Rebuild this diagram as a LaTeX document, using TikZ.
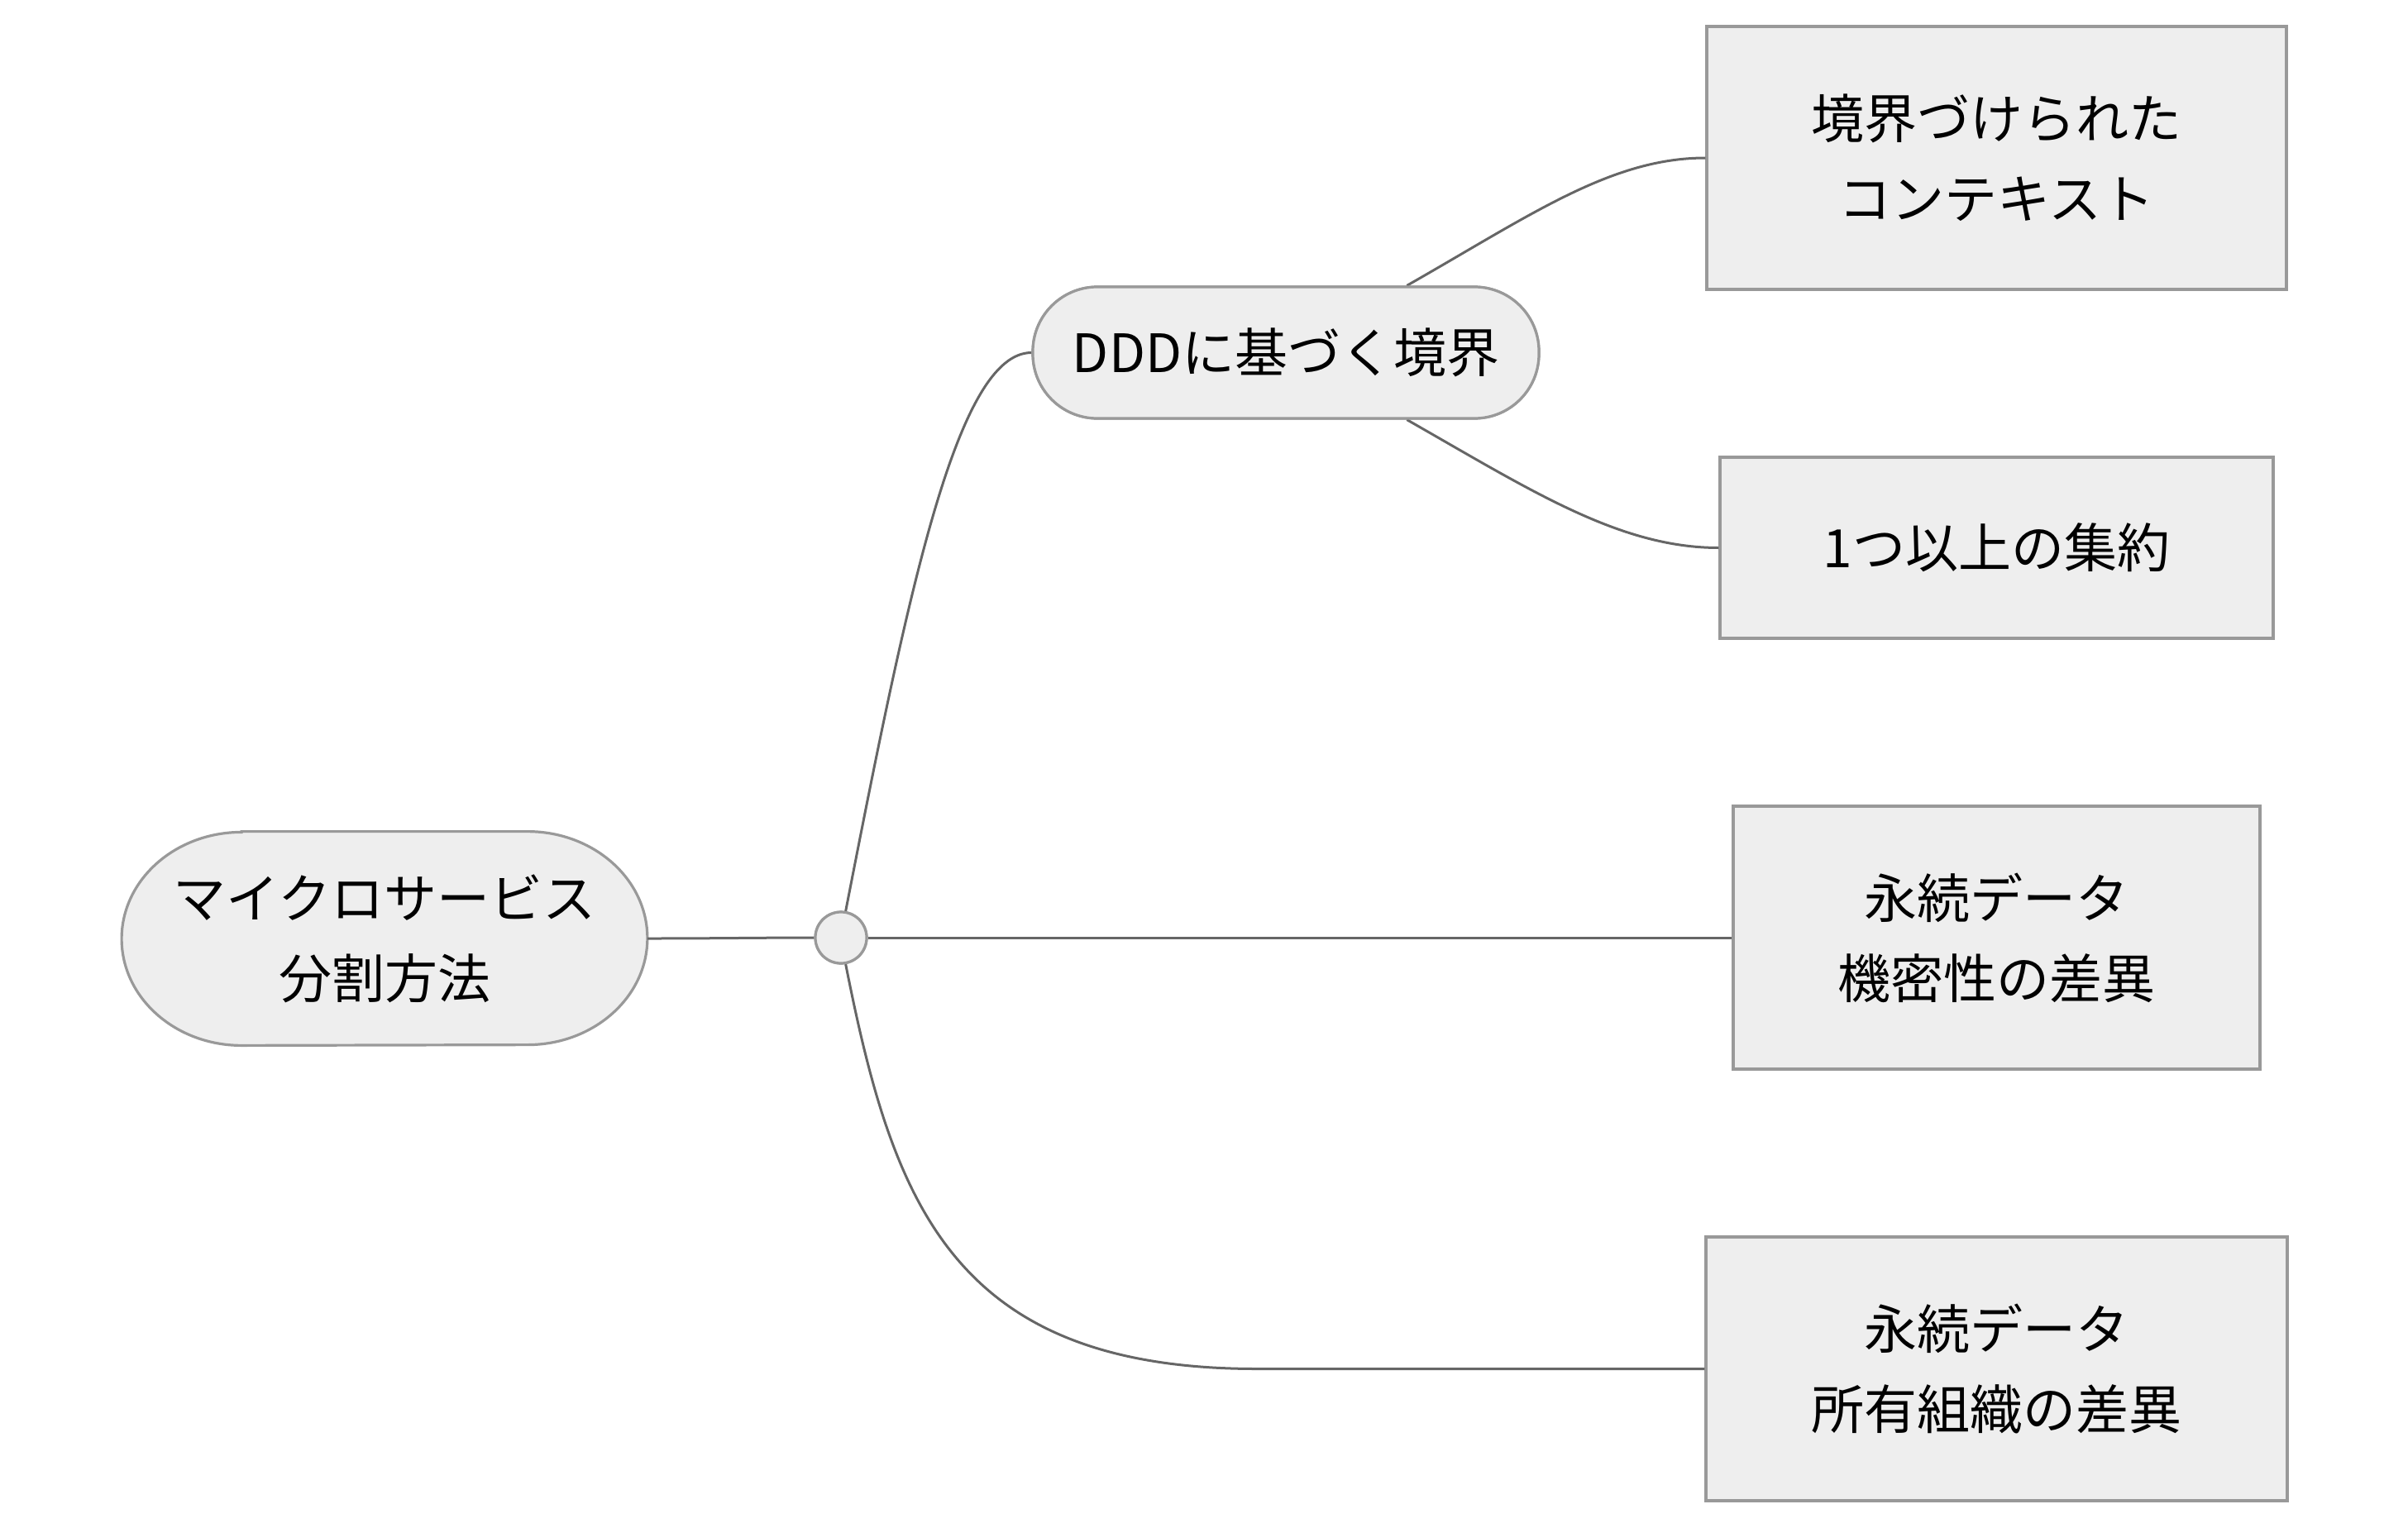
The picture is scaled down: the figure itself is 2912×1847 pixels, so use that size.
\documentclass[tikz,border=0pt]{standalone}
\usepackage{fontspec}
\setmainfont{Noto Sans CJK JP}
\usetikzlibrary{calc}
\definecolor{boxfill}{HTML}{EEEEEE}
\definecolor{boxline}{HTML}{999999}
\definecolor{edgeline}{HTML}{666666}
\tikzset{
  every node/.style={font=\fontsize{32}{48.5}\selectfont, align=center, text=black, inner sep=0pt},
  sqbox/.style={draw=boxline, fill=boxfill, line width=1.6pt, rectangle},
  pillbox/.style={draw=boxline, fill=boxfill, line width=1.6pt, rectangle, rounded corners=39pt},
  hubnode/.style={draw=boxline, fill=boxfill, line width=1.6pt, circle, minimum size=31pt},
  rootshape/.style={draw=boxline, fill=boxfill, line width=1.6pt},
  conn/.style={draw=edgeline, line width=1.5pt},
}
\begin{document}
\begin{tikzpicture}[x=0.5pt,y=0.5pt]
\useasboundingbox (0,0) rectangle (2912,-1847);
% root
\node[rectangle, minimum width=317.5pt, minimum height=129pt] (root) at (465,-1135) {};
\path[rootshape] ($(root.north west)+(145,0)$) -- ($(root.north east)+(-145,0)$)
  arc[start angle=90, end angle=-90, x radius=72.5pt, y radius=64.5pt]
  -- ($(root.south west)+(145,0)$)
  arc[start angle=270, end angle=90, x radius=72.5pt, y radius=64.5pt] -- cycle;
\node at (root.center) {マイクロサービス\\分割方法};
% hub
\node[hubnode] (hub) at (1017,-1134) {};
% level 1
\node[pillbox, minimum width=306pt, minimum height=79.5pt] (ddd) at (1555,-426.5) {DDDに基づく境界};
% leaves
\node[sqbox, minimum width=350.5pt, minimum height=159pt] (b1) at (2414.5,-191) {境界づけられた\\コンテキスト};
\node[sqbox, minimum width=334.5pt, minimum height=109.5pt] (b2) at (2414.5,-662.5) {1つ以上の集約};
\node[sqbox, minimum width=318.5pt, minimum height=159pt] (b3) at (2414.5,-1134) {永続データ\\機密性の差異};
\node[sqbox, minimum width=351.5pt, minimum height=159.5pt] (b4) at (2414.5,-1655.5) {永続データ\\所有組織の差異};
\coordinate (k4) at (1520,-1655.5);
% connectors
\draw[conn] (root.east) .. controls +(80,0) and +(-60,0) .. (hub.west);
\draw[conn] (hub.80) .. controls +(77,395) and +(-89,0) .. (ddd.west);
\draw[conn] (hub.east) -- (b3.west);
\draw[conn] (hub.-80) .. controls +(57,-287) and +(-370,0) .. (k4) -- (b4.west);
\draw[conn] (ddd.29) .. controls +(151,86) and +(-114,0) .. (b1.west);
\draw[conn] (ddd.-29) .. controls +(151,-86) and +(-120,0) .. (b2.west);
% redraw nodes on top of connectors
\node[hubnode] at (hub.center) {};
\node[pillbox, minimum width=306pt, minimum height=79.5pt] at (ddd.center) {DDDに基づく境界};
\end{tikzpicture}
\end{document}
